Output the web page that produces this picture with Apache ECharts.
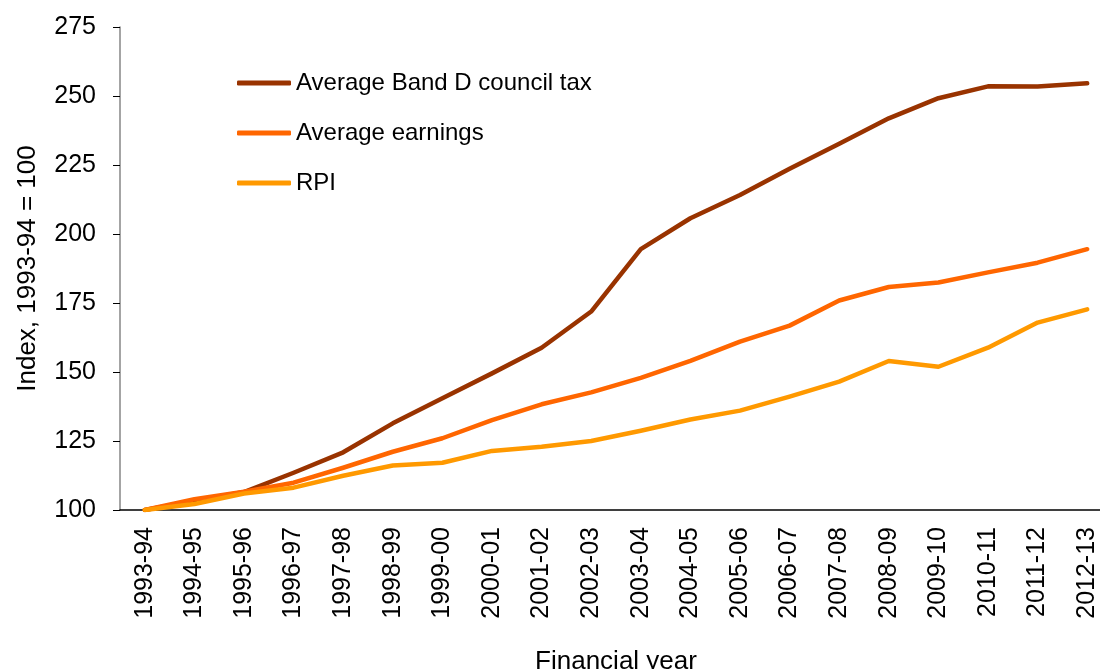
<!DOCTYPE html>
<html lang="en">
<head>
    <meta charset="UTF-8">
    <script src="https://cdn.jsdelivr.net/npm/echarts@6/dist/echarts.min.js"></script>
    <title>Council tax, earnings and RPI</title>
</head>
<body style="margin:0;background:#fff;">
<div id="main" style="width: 1100px;height:669px;"></div>

<script type="text/javascript">
    var years = ['1993-94','1994-95','1995-96','1996-97','1997-98','1998-99','1999-00','2000-01','2001-02','2002-03',
                 '2003-04','2004-05','2005-06','2006-07','2007-08','2008-09','2009-10','2010-11','2011-12','2012-13'];
    var councilTax = [100, 103.3, 106.5, 113.5, 120.9, 131.4, 140.5, 149.5, 158.8, 171.9,
                      194.5, 205.7, 214.1, 223.6, 232.7, 241.9, 249.2, 253.5, 253.4, 254.6];
    var earnings = [100, 103.9, 106.6, 109.9, 115.3, 121.1, 126.0, 132.6, 138.3, 142.6,
                    147.9, 154.0, 161.0, 166.8, 175.9, 180.8, 182.4, 186.1, 189.6, 194.5];
    var rpi = [100, 102.2, 106.0, 108.1, 112.4, 116.1, 117.1, 121.4, 122.9, 125.0,
               128.7, 132.8, 136.0, 141.1, 146.5, 154.0, 151.9, 158.8, 167.9, 172.7];
    var yTicks = [100, 125, 150, 175, 200, 225, 250, 275];

    var font = 'Liberation Sans, Arial, sans-serif';
    var myChart = echarts.init(document.getElementById('main'));

    function line(name, data, color) {
        return {
            name: name,
            type: 'line',
            data: data,
            symbol: 'none',
            color: color,
            lineStyle: { width: 4.5, color: color, cap: 'round', join: 'round' }
        };
    }

    var option = {
        animation: false,
        textStyle: { fontFamily: font },
        legend: {
            orient: 'vertical',
            left: 232,
            top: 66,
            itemWidth: 54,
            itemHeight: 5,
            itemGap: 26,
            icon: 'roundRect',
            textStyle: { fontSize: 24, color: '#000', fontFamily: font, lineHeight: 24 },
            data: ['Average Band D council tax', 'Average earnings', 'RPI']
        },
        grid: {
            left: 120,
            top: 27,
            width: 992,
            height: 483,
            outerBoundsMode: 'none',
            containLabel: false
        },
        xAxis: {
            type: 'category',
            data: years,
            boundaryGap: true,
            name: 'Financial year',
            nameLocation: 'middle',
            nameGap: 139,
            nameTextStyle: { fontSize: 26, color: '#000', fontFamily: font },
            axisLine: { lineStyle: { color: '#000', width: 1.5 } },
            axisTick: { length: 7, lineStyle: { color: '#868686', width: 1.5 } },
            axisLabel: { rotate: 90, interval: 0, margin: 17, fontSize: 25, color: '#000', fontFamily: font }
        },
        yAxis: {
            type: 'value',
            min: yTicks[0],
            max: yTicks[yTicks.length - 1],
            interval: 25,
            name: 'Index, 1993-94 = 100',
            nameLocation: 'middle',
            nameGap: 79,
            nameTextStyle: { fontSize: 26, color: '#000', fontFamily: font },
            axisLine: { show: true, lineStyle: { color: '#868686', width: 1.5 } },
            axisTick: { show: true, length: 7, lineStyle: { color: '#000', width: 1 } },
            axisLabel: { margin: 24, fontSize: 25, color: '#000', fontFamily: font },
            splitLine: { show: false }
        },
        series: [
            line('Average Band D council tax', councilTax, '#993300'),
            line('Average earnings', earnings, '#FF6600'),
            line('RPI', rpi, '#FF9900')
        ]
    };
    myChart.setOption(option);
</script>
</body>
</html>
